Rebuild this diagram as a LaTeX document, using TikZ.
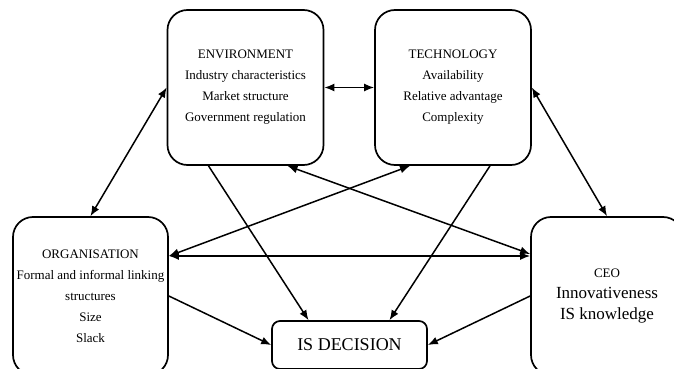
\documentclass[tikz,border=0pt]{standalone}
\usepackage{fontspec}
\setmainfont{Liberation Serif}
\usetikzlibrary{arrows.meta}

\begin{document}
\begin{tikzpicture}[x=1pt, y=1pt, line width=1.5pt, >={Latex[length=10pt,width=8pt]},
    box node/.style={draw, rounded corners=20pt, line width=1.7pt, align=center, font=\fontsize{13}{21}\selectfont}]

    \useasboundingbox (0,0) rectangle (674,-369);

    % Boxes
    \node[box node, minimum width=156pt, minimum height=155pt] (Env) at (245.5,-87.5) {ENVIRONMENT\\Industry characteristics\\Market structure\\Government regulation};
    \node[box node, minimum width=156pt, minimum height=155pt] (Tech) at (453,-87.5) {TECHNOLOGY\\Availability\\Relative advantage\\Complexity};
    \node[box node, minimum width=155pt, minimum height=158pt] (Org) at (90.5,-296) {ORGANISATION\\Formal and informal linking\\structures\\Size\\Slack};
    \node[box node, minimum width=152pt, minimum height=158pt] (Ceo) at (607,-296) {CEO\\{\fontsize{17}{21}\selectfont Innovativeness}\\{\fontsize{17}{21}\selectfont IS knowledge}};
    \node[box node, rounded corners=8pt, minimum width=155pt, minimum height=48pt, font=\fontsize{18}{21}\selectfont] (Dec) at (349.5,-345) {IS DECISION};

    % Two-way links
    \draw[<->] (Env) -- (Tech);
    \draw[<->] (Env.west) -- (Org.north);
    \draw[<->] (Tech.east) -- (Ceo.north);
    \draw[<->] ([yshift=40pt]Org.east) -- ([yshift=40pt]Ceo.west);
    \draw[<->] ([yshift=40pt]Org.east) -- ([xshift=-43pt]Tech.south);
    \draw[<->] ([xshift=42pt]Env.south) -- ([yshift=42pt]Ceo.west);

    % Links to the decision
    \draw[->] ([xshift=-37pt]Env.south) -- ([xshift=-41pt]Dec.north);
    \draw[->] ([xshift=37pt]Tech.south) -- ([xshift=40pt]Dec.north);
    \draw[->] (Org.east) -- (Dec.west);
    \draw[->] (Ceo.west) -- (Dec.east);

\end{tikzpicture}
\end{document}
